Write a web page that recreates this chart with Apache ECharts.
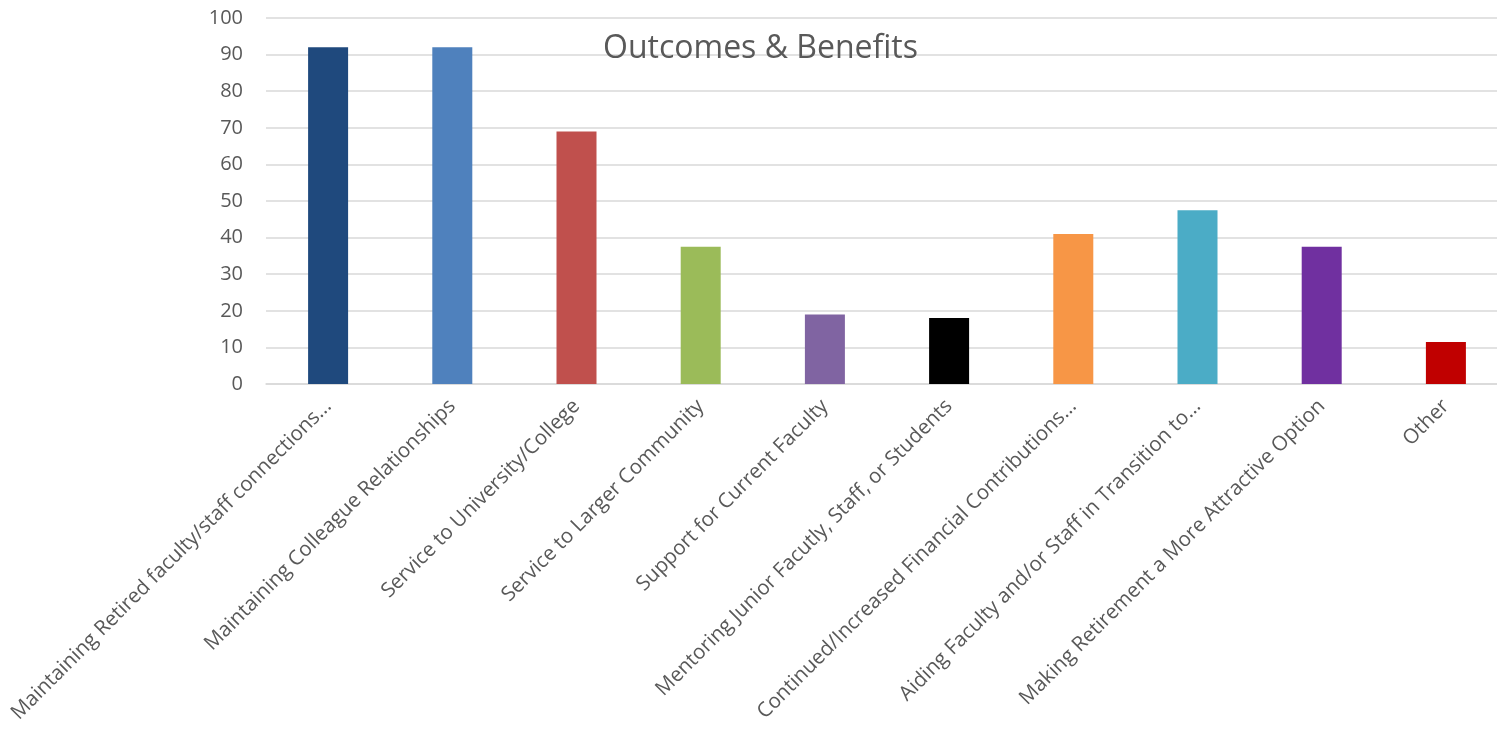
<!DOCTYPE html>
<html>
<head>
<meta charset="utf-8">
<script src="https://cdn.jsdelivr.net/npm/echarts@6/dist/echarts.min.js"></script>
<style>
html,body{margin:0;padding:0;background:#fff;}
#chart{width:1497px;height:729px;}
</style>
</head>
<body>
<div id="chart"></div>
<script>
const categories = [
  "Maintaining Retired faculty/staff connections...",
  "Maintaining Colleague Relationships",
  "Service to University/College",
  "Service to Larger Community",
  "Support for Current Faculty",
  "Mentoring Junior Facutly, Staff, or Students",
  "Continued/Increased Financial Contributions...",
  "Aiding Faculty and/or Staff in Transition to...",
  "Making Retirement a More Attractive Option",
  "Other"
];
const values = [92, 92, 69, 37.5, 19, 18, 41, 47.5, 37.5, 11.5];
const barColors = ["#1f497d", "#4f81bd", "#c0504d", "#9bbb59", "#8064a2", "#000000", "#f79646", "#4bacc6", "#7030a0", "#c00000"];
const yTicks = [0, 10, 20, 30, 40, 50, 60, 70, 80, 90, 100];

const chart = echarts.init(document.getElementById('chart'), null, {renderer: 'canvas'});
chart.setOption({
  animation: false,
  backgroundColor: '#ffffff',
  title: {
    text: 'Outcomes & Benefits',
    left: 598,
    top: 28,
    textStyle: {fontFamily: 'Open Sans', fontSize: 32, fontWeight: 'normal', color: '#595959'}
  },
  grid: {left: 266, top: 18, right: -11, bottom: 345, containLabel: false, outerBoundsMode: 'none'},
  xAxis: {
    type: 'category',
    data: categories,
    axisLine: {show: true, lineStyle: {color: '#d9d9d9', width: 1.5}},
    axisTick: {show: false},
    axisLabel: {
      rotate: 45,
      interval: 0,
      margin: 19,
      fontFamily: 'Open Sans',
      fontSize: 20.5,
      color: '#595959'
    }
  },
  yAxis: {
    type: 'value',
    min: 0,
    max: 100,
    interval: 10,
    axisLine: {show: false},
    axisTick: {show: false},
    splitLine: {lineStyle: {color: '#d9d9d9', width: 1.5}},
    axisLabel: {
      margin: 23,
      fontFamily: 'Open Sans',
      fontSize: 20,
      color: '#595959',
      formatter: v => yTicks.includes(v) ? String(v) : ''
    }
  },
  series: [{
    type: 'bar',
    data: values.map((v, i) => ({value: v, itemStyle: {color: barColors[i]}})),
    barWidth: 40
  }]
});
</script>
</body>
</html>
